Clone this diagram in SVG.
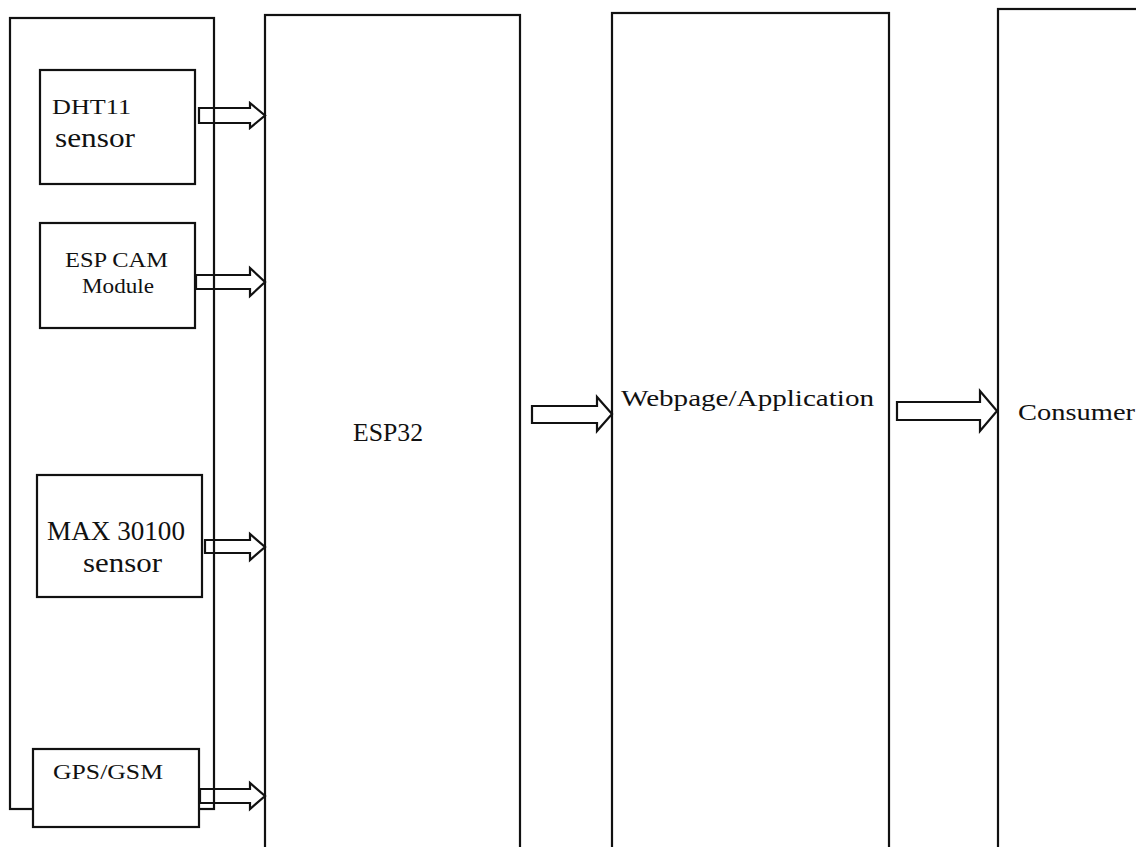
<svg xmlns="http://www.w3.org/2000/svg" width="1136" height="847" viewBox="0 0 1136 847">
<style>
.box{fill:#fff;stroke:#111;stroke-width:2.2}
.arr{fill:none;stroke:#111;stroke-width:2.2;stroke-linejoin:miter}
text{font-family:"Liberation Serif","Times New Roman",serif;fill:#111}
</style>
<rect width="1136" height="847" fill="#fff"/>
<g id="container"><rect class="box" x="10" y="18" width="204" height="791" fill="none"/></g>
<g id="esp32"><rect class="box" x="265" y="15" width="255" height="860"/><text x="353" y="441" font-size="25" textLength="70" lengthAdjust="spacingAndGlyphs">ESP32</text></g>
<g id="webpage"><rect class="box" x="612" y="13" width="277" height="860"/><text x="621" y="406" font-size="24" textLength="253" lengthAdjust="spacingAndGlyphs">Webpage/Application</text></g>
<g id="consumer"><rect class="box" x="998" y="9" width="200" height="860"/><text x="1018" y="420" font-size="23" textLength="117" lengthAdjust="spacingAndGlyphs">Consumer</text></g>
<g id="dht11"><rect class="box" x="40" y="70" width="155" height="114"/><text x="52" y="114" font-size="22" textLength="79" lengthAdjust="spacingAndGlyphs">DHT11</text><text x="55" y="147" font-size="28" textLength="80" lengthAdjust="spacingAndGlyphs">sensor</text></g>
<g id="espcam"><rect class="box" x="40" y="223" width="155" height="105"/><text x="65" y="267" font-size="21" textLength="103" lengthAdjust="spacingAndGlyphs">ESP CAM</text><text x="82" y="293" font-size="21" textLength="72" lengthAdjust="spacingAndGlyphs">Module</text></g>
<g id="max30100"><rect class="box" x="37" y="475" width="165" height="122"/><text x="47" y="540" font-size="27" textLength="138" lengthAdjust="spacingAndGlyphs">MAX 30100</text><text x="83" y="572" font-size="28" textLength="79" lengthAdjust="spacingAndGlyphs">sensor</text></g>
<g id="gpsgsm"><rect class="box" x="33" y="749" width="166" height="78"/><text x="53" y="779" font-size="21" textLength="110" lengthAdjust="spacingAndGlyphs">GPS/GSM</text></g>
<g id="connectors">
<path class="arr" d="M199,108 L250,108 L250,103 L265,115.5 L250,128 L250,123 L199,123 Z"/>
<path class="arr" d="M196,275 L250,275 L250,268 L265,282 L250,296 L250,289 L196,289 Z"/>
<path class="arr" d="M205,540 L250,540 L250,534 L265,547 L250,560 L250,553 L205,553 Z"/>
<path class="arr" d="M200,789 L250,789 L250,783 L265,796 L250,809 L250,803 L200,803 Z"/>
<path class="arr" d="M532,406 L597,406 L597,397 L612,414 L597,431 L597,423 L532,423 Z"/>
<path class="arr" d="M897,402 L980,402 L980,391 L997,411 L980,431 L980,420 L897,420 Z"/>
</g>
</svg>
